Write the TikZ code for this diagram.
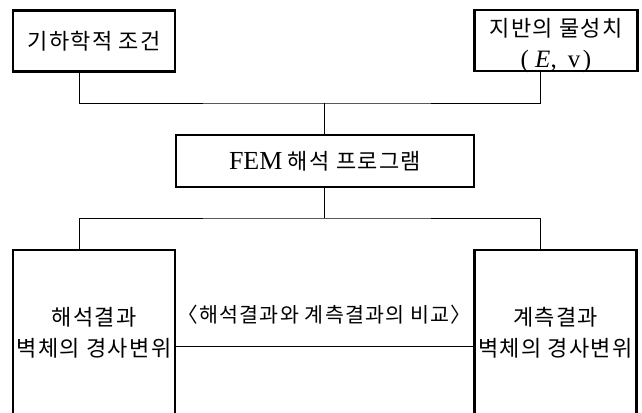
\documentclass[tikz,border=0pt]{standalone}
\usepackage{fontspec}
\setmainfont{Liberation Serif}
\newfontfamily\kr{Noto Sans CJK KR}[LetterSpace=6]
\begin{document}
\begin{tikzpicture}[x=1pt,y=-1pt,
  box/.style={draw,line width=2.7pt,inner sep=0pt,align=center},
  conn/.style={line width=0.9pt},
  kt/.style={font=\kr\fontsize{22}{31}\selectfont,align=center}]
\useasboundingbox (0,0) rectangle (642,412);
\clip (0,0) rectangle (642,412);
% top boxes
\node[box,kt,minimum width=162pt,minimum height=61pt] (A) at (94,41) {기하학적 조건};
\node[box,minimum width=163pt,minimum height=61pt] (B) at (556,40.5) {};
\node[kt] (Bt) at (556,46)
  {지반의 물성치\\{\rmfamily\fontsize{25}{31}\selectfont (\hspace{0.25em}\textit{E},\hspace{0.45em}v\hspace{0.1em})}};
% FEM box
\node[box,kt,minimum width=298pt,minimum height=52pt] (F) at (325,161)
  {{\rmfamily\fontsize{26}{31}\selectfont FEM}\hspace{0.25em}해석 프로그램};
% bottom boxes (cut off by the page edge)
\node[box,minimum width=162pt,minimum height=190pt] (L) at (94,345) {};
\node[box,minimum width=162pt,minimum height=190pt] (R) at (555.5,345) {};
\node[kt] (Lt) at (94,332.5) {해석결과\\벽체의 경사변위};
\node[kt] (Rt) at (555.5,332.5) {계측결과\\벽체의 경사변위};
\node[font=\kr\fontsize{20.6}{22}\selectfont,inner sep=0pt] (cmp) at (324.5,315) {〈해석결과와 계측결과의 비교〉};
% junctions
\coordinate (xl) at (79,0);
\coordinate (xr) at (540,0);
\coordinate (j1) at (324,103);
\coordinate (j2) at (324,218);
\coordinate (mid) at (0,346);
% connectors
\draw[conn] (A.south -| xl) |- (j1) -| (B.south -| xr);
\draw[conn] (j1) -- (F.north -| j1);
\draw[conn] (F.south -| j2) -- (j2);
\draw[conn] (L.north -| xl) |- (j2) -| (R.north -| xr);
\draw[conn] (L.east |- mid) -- (R.west |- mid);
\end{tikzpicture}
\end{document}
